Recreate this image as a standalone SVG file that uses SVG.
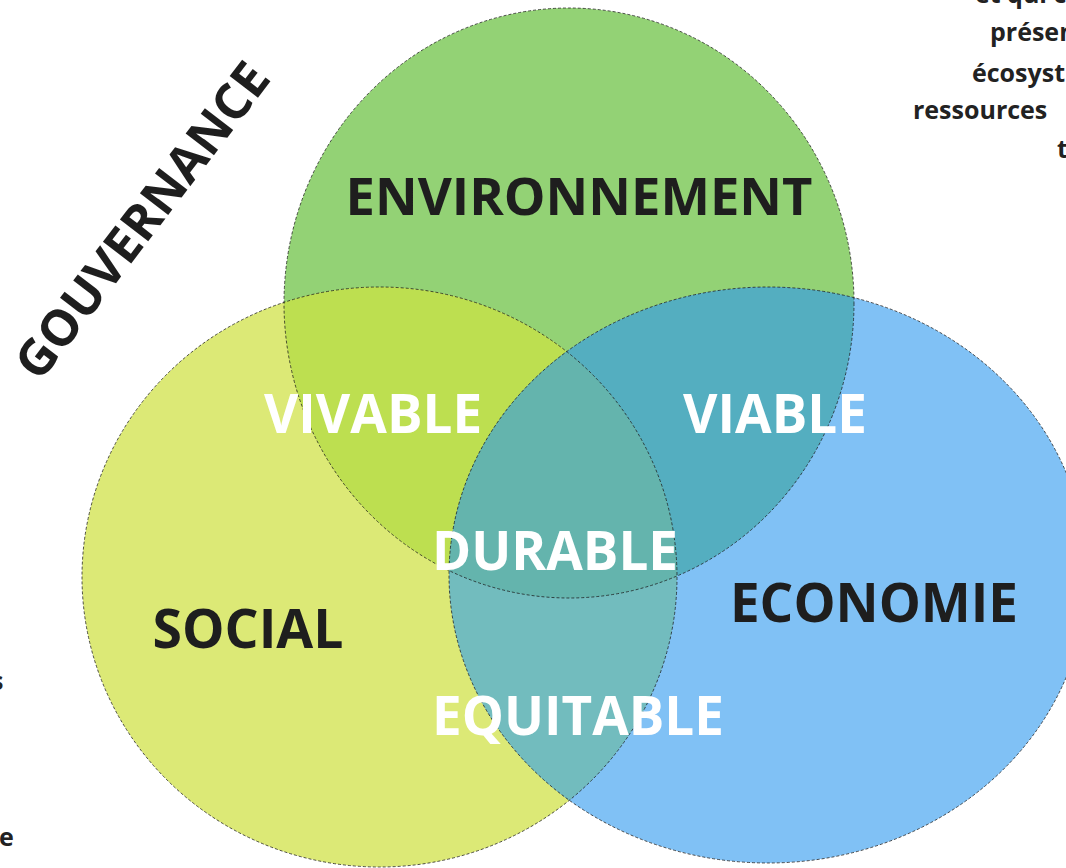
<svg xmlns="http://www.w3.org/2000/svg" width="1066" height="868" viewBox="0 0 1066 868">
<style>
.lbl{font-family:"Open Sans","Noto Sans","Liberation Sans",sans-serif;font-weight:700;text-anchor:middle}
.dark{fill:#1e1e1e}
.white{fill:#ffffff}
.para{font-family:"Open Sans","Noto Sans","Liberation Sans",sans-serif;font-weight:700;font-size:25px;fill:#222222}
.outline{fill:none;stroke:#1a1a1a;stroke-opacity:0.75;stroke-width:1;stroke-dasharray:3 2}
</style>
<defs>
<ellipse id="eG" cx="569" cy="303" rx="285" ry="295"/>
<ellipse id="eY" cx="379.5" cy="577" rx="297.5" ry="290"/>
<ellipse id="eB" cx="768" cy="575" rx="319" ry="288"/>
<clipPath id="cG"><use href="#eG"/></clipPath>
<clipPath id="cY"><use href="#eY"/></clipPath>
</defs>
<rect width="1066" height="868" fill="#ffffff"/>
<g id="node-environnement"><use href="#eG" fill="#93d275"/></g>
<g id="node-social"><use href="#eY" fill="#dce976"/></g>
<g id="node-economie"><use href="#eB" fill="#80c1f5"/></g>
<g id="overlaps">
<g clip-path="url(#cG)"><use href="#eY" fill="#bddf50"/><use href="#eB" fill="#54aec0"/></g>
<g clip-path="url(#cY)"><use href="#eB" fill="#72bcbe"/></g>
<g clip-path="url(#cY)"><g clip-path="url(#cG)"><use href="#eB" fill="#64b4ad"/></g></g>
</g>
<g id="outlines">
<use href="#eG" class="outline"/>
<use href="#eY" class="outline"/>
<use href="#eB" class="outline"/>
</g>
<g id="labels">
<text class="lbl dark" x="579" y="215" font-size="52.5">ENVIRONNEMENT</text>
<text class="lbl dark" x="248" y="648" font-size="53.5">SOCIAL</text>
<text class="lbl dark" x="874" y="622" font-size="53">ECONOMIE</text>
<text class="lbl white" x="373" y="433" font-size="53">VIVABLE</text>
<text class="lbl white" x="775" y="433" font-size="53">VIABLE</text>
<text class="lbl white" x="555" y="570" font-size="53">DURABLE</text>
<text class="lbl white" x="578" y="735" font-size="53">EQUITABLE</text>
<text class="lbl dark" font-size="50" transform="translate(156,231) rotate(-52.6)">GOUVERNANCE</text>
</g>
<g id="paragraph-right">
<text class="para" x="975" y="3">et qui c</text>
<text class="para" x="990" y="41">présen</text>
<text class="para" x="972" y="82">écosyst</text>
<text class="para" x="913" y="119">ressources</text>
<text class="para" x="1057" y="158">t</text>
</g>
<g id="paragraph-left">
<text class="para" x="-9" y="690">s</text>
<text class="para" x="-1" y="846">e</text>
</g>
</svg>
